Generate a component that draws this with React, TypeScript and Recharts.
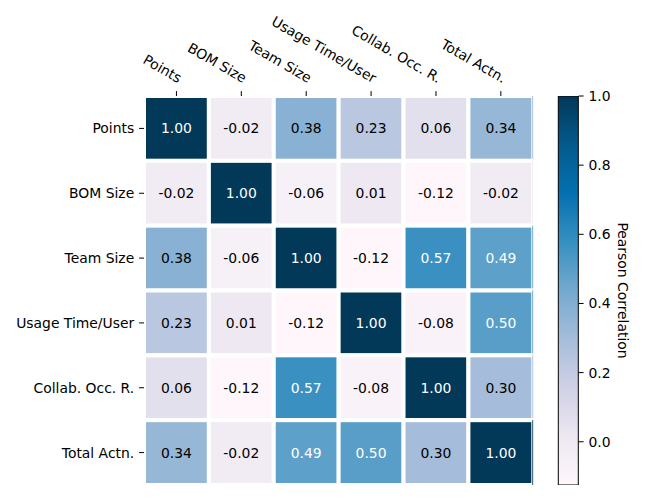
import React from 'react';
import { ScatterChart, Scatter, XAxis, YAxis, BarChart, Bar, Label } from 'recharts';

// ---- data ----
const labels = ['Points', 'BOM Size', 'Team Size', 'Usage Time/User', 'Collab. Occ. R.', 'Total Actn.'];
const rowPoints = [1.0, -0.02, 0.38, 0.23, 0.06, 0.34];
const rowBom = [-0.02, 1.0, -0.06, 0.01, -0.12, -0.02];
const rowTeam = [0.38, -0.06, 1.0, -0.12, 0.57, 0.49];
const rowUsage = [0.23, 0.01, -0.12, 1.0, -0.08, 0.5];
const rowCollab = [0.06, -0.12, 0.57, -0.08, 1.0, 0.3];
const rowTotal = [0.34, -0.02, 0.49, 0.5, 0.3, 1.0];
const rows = [rowPoints, rowBom, rowTeam, rowUsage, rowCollab, rowTotal];
const cellTicks = [0.5, 1.5, 2.5, 3.5, 4.5, 5.5];
const cbTicks = [0, 0.2, 0.4, 0.6, 0.8, 1.0];
const VMIN = -0.125;
const VMAX = 1.0;

const PUBU = ['#fff7fb', '#ece7f2', '#d0d1e6', '#a6bddb', '#74a9cf', '#3690c0', '#0570b0', '#045a8d', '#023858'];

// ---- layout ----
const W = 650;
const H = 500;
const M_TOP = 96;
const M_BOTTOM = 15;
const Y_W = 144;
const PLOT_RIGHT = 533.3;
const CB_LEFT = 558.3;
const CB_RIGHT = 578.7;
const FONT = '"DejaVu Sans", sans-serif';
const FS = 13.9;

const cellW = (PLOT_RIGHT - Y_W) / 6;
const cellH = (H - M_BOTTOM - M_TOP) / 6;

function hexToRgb(h: string) {
  return [parseInt(h.slice(1, 3), 16), parseInt(h.slice(3, 5), 16), parseInt(h.slice(5, 7), 16)];
}
function colorRgb(v: number) {
  let t = (v - VMIN) / (VMAX - VMIN);
  t = Math.max(0, Math.min(1, t));
  const pos = t * (PUBU.length - 1);
  const i = Math.min(Math.floor(pos), PUBU.length - 2);
  const f = pos - i;
  const a = hexToRgb(PUBU[i]);
  const b = hexToRgb(PUBU[i + 1]);
  return [0, 1, 2].map((k) => Math.round(a[k] + (b[k] - a[k]) * f));
}
function colorFor(v: number) {
  const [r, g, b] = colorRgb(v);
  return `rgb(${r},${g},${b})`;
}
function textColor(v: number) {
  const lin = colorRgb(v).map((c) => {
    const s = c / 255;
    return s <= 0.03928 ? s / 12.92 : Math.pow((s + 0.055) / 1.055, 2.4);
  });
  const lum = 0.2126 * lin[0] + 0.7152 * lin[1] + 0.0722 * lin[2];
  return lum < 0.408 ? '#ffffff' : '#000000';
}

const cells = rows.flatMap((row, r) => row.map((v, c) => ({ x: c + 0.5, y: r + 0.5, v, c })));

const renderCell = (props: any) => {
  const { cx, cy, payload } = props;
  const fill = colorFor(payload.v);
  return (
    <g>
      <rect
        x={cx - cellW / 2}
        y={cy - cellH / 2}
        width={cellW}
        height={cellH}
        fill={fill}
        stroke="#ffffff"
        strokeWidth={4}
      />
      {payload.c === 5 ? (
        <rect x={cx + cellW / 2 - 1} y={cy - cellH / 2} width={1} height={cellH} fill={fill} />
      ) : null}
      <text
        x={cx}
        y={cy}
        textAnchor="middle"
        dominantBaseline="central"
        fill={textColor(payload.v)}
        fontSize={FS}
        fontFamily={FONT}
      >
        {payload.v.toFixed(2)}
      </text>
    </g>
  );
};

const XTick = (props: any) => {
  const { x, y, payload } = props;
  const label = labels[Math.floor(payload.value)];
  return (
    <g transform={`translate(${x},${y}) rotate(30)`}>
      <text x={0} y={-3.3} textAnchor="end" fill="#000" fontSize={FS} fontFamily={FONT}>
        {label}
      </text>
    </g>
  );
};

export default function App() {
  return (
    <div style={{ position: 'absolute', left: 0, top: 0, width: W, height: H, background: '#fff', fontFamily: FONT }}>
      <div style={{ position: 'absolute', left: 0, top: 0 }}>
        <ScatterChart width={W} height={H} margin={{ top: 0, right: W - PLOT_RIGHT, bottom: M_BOTTOM, left: 0 }}>
          <XAxis
            type="number"
            dataKey="x"
            orientation="top"
            domain={[0, 6]}
            ticks={cellTicks}
            interval={0}
            height={M_TOP}
            axisLine={false}
            tickSize={4.9}
            tickMargin={4.9}
            tickLine={{ stroke: '#000', strokeWidth: 1 }}
            tick={<XTick />}
            allowDataOverflow
          />
          <YAxis
            type="number"
            dataKey="y"
            domain={[0, 6]}
            reversed
            ticks={cellTicks}
            interval={0}
            width={Y_W}
            axisLine={false}
            tickSize={4.9}
            tickMargin={4.9}
            tickLine={{ stroke: '#000', strokeWidth: 1 }}
            tick={{ fill: '#000', fontSize: FS, fontFamily: FONT }}
            tickFormatter={(v: number) => labels[Math.floor(v)]}
            allowDataOverflow
          />
          <Scatter data={cells} shape={renderCell} isAnimationActive={false} />
        </ScatterChart>
      </div>
      <div style={{ position: 'absolute', left: 0, top: 0 }}>
        <BarChart
          width={W}
          height={H}
          data={[{ name: 'cb', range: [VMIN, VMAX] }]}
          margin={{ top: M_TOP, right: 0, bottom: M_BOTTOM, left: CB_LEFT }}
          barCategoryGap={0}
        >
          <defs>
            <linearGradient id="cbGrad" x1="0" y1="1" x2="0" y2="0">
              {PUBU.map((c, i) => (
                <stop key={i} offset={`${(i / (PUBU.length - 1)) * 100}%`} stopColor={c} />
              ))}
            </linearGradient>
          </defs>
          <XAxis dataKey="name" hide />
          <YAxis
            orientation="right"
            type="number"
            domain={[VMIN, VMAX]}
            ticks={cbTicks}
            interval={0}
            width={W - CB_RIGHT}
            axisLine={false}
            tickSize={4.9}
            tickMargin={4.9}
            tickLine={{ stroke: '#000', strokeWidth: 1 }}
            tick={{ fill: '#000', fontSize: FS, fontFamily: FONT }}
            tickFormatter={(v: number) => v.toFixed(1)}
            allowDataOverflow
          >
            <Label
              content={(p: any) => {
                const vb = p.viewBox || {};
                const lx = vb.x + 44.5;
                const ly = vb.y + vb.height / 2;
                return (
                  <text
                    x={lx}
                    y={ly}
                    transform={`rotate(90, ${lx}, ${ly})`}
                    textAnchor="middle"
                    dominantBaseline="central"
                    fill="#000"
                    fontSize={FS}
                    fontFamily={FONT}
                  >
                    Pearson Correlation
                  </text>
                );
              }}
            />
          </YAxis>
          <Bar dataKey="range" fill="url(#cbGrad)" stroke="#000" strokeWidth={1} isAnimationActive={false} />
        </BarChart>
      </div>
    </div>
  );
}
